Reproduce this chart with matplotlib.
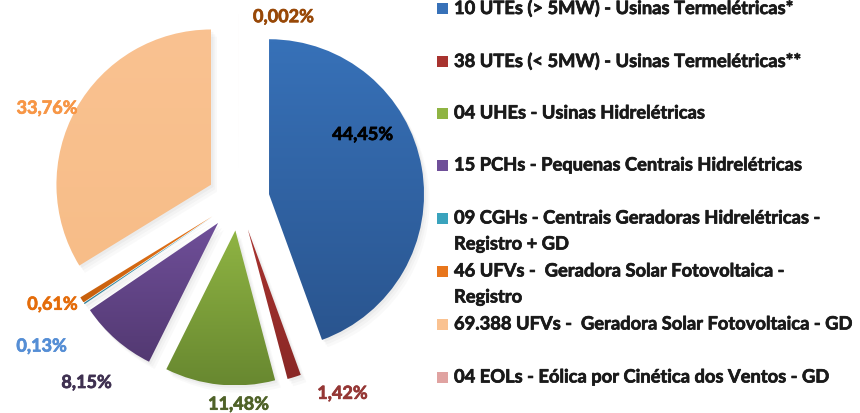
import numpy as np
import matplotlib.pyplot as plt
import matplotlib.patheffects as pe
from matplotlib.colors import LinearSegmentedColormap
from matplotlib.patches import Rectangle, Wedge

plt.rcParams['font.family'] = ['Lato', 'DejaVu Sans']

# dados
labels = ['10 UTEs (> 5MW) - Usinas Termelétricas*',
          '38 UTEs (< 5MW) - Usinas Termelétricas**',
          '04 UHEs - Usinas Hidrelétricas',
          '15 PCHs - Pequenas Centrais Hidrelétricas',
          '09 CGHs - Centrais Geradoras Hidrelétricas -\nRegistro + GD',
          '46 UFVs -  Geradora Solar Fotovoltaica -\nRegistro',
          '69.388 UFVs -  Geradora Solar Fotovoltaica - GD',
          '04 EOLs - Eólica por Cinética dos Ventos - GD']
shares = [44.45, 1.42, 11.48, 8.15, 0.13, 0.61, 33.76, 0.002]
pct_text = ['44,45%', '1,42%', '11,48%', '8,15%', '0,13%', '0,61%', '33,76%', '0,002%']

# cores (topo, base) do gradiente
grad = [('#3771b8', '#2a558f'), ('#a8332f', '#8a2826'), ('#8fb443', '#688830'),
        ('#6f4f99', '#533972'), ('#3aa3bd', '#2b7f96'), ('#e8761c', '#c65f0c'),
        ('#fac291', '#f7bd88'), ('#e0a3a1', '#b86d6b')]
txt_colors = ['black', '#953735', '#4f6228', '#3f3151', '#558ed5', '#e46c0a',
              '#f79646', '#984807']
# posicao dos rotulos (relativa ao centro, em raios)
lab_xy = [(0.80, 0.42), (0.67, -1.25), (0.0, -1.32), (-0.98, -1.18),
          (-1.27, -0.945), (-1.20, -0.675), (-1.235, 0.59), (0.29, 1.18)]

W, H = 860, 414
fig = plt.figure(figsize=(W / 100, H / 100), dpi=100)
R = 155.0
cx, cy = 238.5, 200.6
axw = 440
ax = fig.add_axes([0, 0, axw / W, 1])

wedges, _ = ax.pie(shares, startangle=90, counterclock=False,
                   explode=[0.2] * len(shares), radius=1)

for w, (ctop, cbot) in zip(wedges, grad):
    # sombra suave
    for k, a in enumerate([0.06, 0.05, 0.04]):
        d = 0.012 * (k + 1)
        s = Wedge((w.center[0] + d, w.center[1] - d * 1.3), w.r, w.theta1, w.theta2,
                  facecolor='#7f7f7f', edgecolor='none', alpha=a, zorder=0.5)
        ax.add_patch(s)
    w.set_facecolor('none')
    w.set_edgecolor('none')
    w.set_zorder(2)
    bb = w.get_path().get_extents()
    cmap = LinearSegmentedColormap.from_list('g', [cbot, ctop])
    img = ax.imshow(np.linspace(1, 0, 100).reshape(-1, 1), cmap=cmap,
                    extent=[bb.x0, bb.x1, bb.y0, bb.y1], aspect='auto',
                    origin='upper', zorder=1, interpolation='bilinear')
    img.set_clip_path(w)

for t, c, (x, y) in zip(pct_text, txt_colors, lab_xy):
    ax.text(x, y, t, color=c, fontsize=13, fontweight='bold',
            ha='center', va='center', zorder=5,
            path_effects=[pe.withStroke(linewidth=0.5, foreground=c)])

ax.set_xlim(-cx / R, (axw - cx) / R)
ax.set_ylim(-(H - cy) / R, cy / R)
ax.set_aspect('auto')
ax.axis('off')

# legenda manual
row_y = [9, 62, 114, 166, 219, 272, 325, 378]
for lab, (ctop, cbot), y in zip(labels, grad, row_y):
    fig.patches.append(Rectangle((437 / W, 1 - (y + 5.5) / H), 11 / W, 11 / H,
                                 transform=fig.transFigure, facecolor=ctop,
                                 edgecolor='none'))
    for i, line in enumerate(lab.split('\n')):
        fig.text(454 / W, 1 - (y + 26 * i) / H, line, fontsize=13.2,
                 fontweight='bold', color='#1a1a1a', ha='left', va='center',
                 path_effects=[pe.withStroke(linewidth=0.5, foreground='#1a1a1a')])

fig.savefig('out.png', dpi=100)
